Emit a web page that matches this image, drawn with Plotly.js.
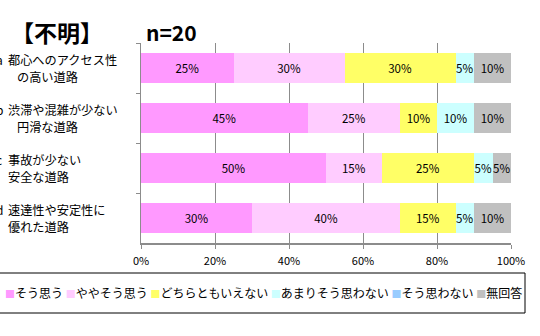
<!DOCTYPE html>
<html><head><meta charset="utf-8">
<script src="https://cdn.plot.ly/plotly-3.0.1.min.js"></script>
<style>body{margin:0;background:#fff}#c{width:540px;height:336px}</style>
</head><body><div id="c"></div>
<script>
// ---- data ----
const categories = ['a', 'b', 'c', 'd'];
const labelLine1 = ['都心へのアクセス性', '渋滞や混雑が少ない', '事故が少ない', '速達性や安定性に'];
const labelLine2 = ['の高い道路', '円滑な道路', '安全な道路', '優れた道路'];
const seriesNames = ['そう思う', 'ややそう思う', 'どちらともいえない', 'あまりそう思わない', 'そう思わない', '無回答'];
const souOmou      = [25, 45, 50, 30];
const yayaSouOmou  = [30, 25, 15, 40];
const dochiramo    = [30, 10, 25, 15];
const amari        = [5, 10, 5, 5];
const souOmowanai  = [0, 0, 0, 0];
const mukaitou     = [10, 10, 5, 10];
const xTicks = [0, 20, 40, 60, 80, 100];
const titleText = '【不明】';
const nText = 'n=20';

// ---- styles ----
const colors = ['#FF99FF', '#FFCCFF', '#FFFF66', '#CCFFFF', '#99CCFF', '#C0C0C0'];
const FONT = '"Noto Sans CJK JP", "Noto Sans", sans-serif';
const W = 540, H = 336, L = 141, R = 29, T = 43, B = 93;
const PW = W - L - R, PH = H - T - B;

const seriesValues = [souOmou, yayaSouOmou, dochiramo, amari, souOmowanai, mukaitou];
const traces = seriesValues.map((vals, i) => ({
  type: 'bar', orientation: 'h',
  name: seriesNames[i],
  y: categories, x: vals,
  text: vals.map(v => v > 0 ? v + '%' : ''),
  textposition: 'inside', insidetextanchor: 'middle', textangle: 0,
  constraintext: 'none',
  textfont: {family: FONT, size: 11.5, color: '#000'},
  marker: {color: colors[i], line: {width: 0}},
  hoverinfo: 'skip', showlegend: false
}));

const annotations = [];
categories.forEach((c, i) => {
  annotations.push({xref: 'paper', yref: 'y', x: 0, y: c, xanchor: 'left', yanchor: 'middle',
    xshift: -L - 6, yshift: 8.5, text: c, showarrow: false,
    font: {family: FONT, size: 12, color: '#000'}});
  annotations.push({xref: 'paper', yref: 'y', x: 0, y: c, xanchor: 'left', yanchor: 'middle',
    xshift: -L + 6, yshift: 8.5, text: labelLine1[i], showarrow: false,
    font: {family: FONT, size: 12.2, color: '#000'}});
  annotations.push({xref: 'paper', yref: 'y', x: 0, y: c, xanchor: 'left', yanchor: 'middle',
    xshift: -L + (i < 2 ? 15 : 6), yshift: -8.5, text: labelLine2[i], showarrow: false,
    font: {family: FONT, size: 12.2, color: '#000'}});
});
annotations.push({xref: 'paper', yref: 'paper', x: 0, y: 1, xanchor: 'left', yanchor: 'middle',
  xshift: -L + 9, yshift: -32 + T, text: '<b>' + titleText + '</b>', showarrow: false,
  font: {family: FONT, size: 23, color: '#000'}});
annotations.push({xref: 'paper', yref: 'paper', x: 0, y: 1, xanchor: 'left', yanchor: 'middle',
  xshift: 3, yshift: -32 + T, text: '<b>' + nText + '</b>', showarrow: false,
  font: {family: FONT, size: 21, color: '#000'}});

// legend drawn as text with coloured squares
const legendText = seriesNames.map((n, i) =>
  '<span style="color:' + colors[i] + ';font-size:10px">■</span>' + n).join(' ');
annotations.push({xref: 'paper', yref: 'paper', x: 0, y: 0, xanchor: 'center', yanchor: 'middle',
  xshift: 263 - L, yshift: -(292 - (T + PH)), text: legendText, showarrow: false,
  font: {family: FONT, size: 12, color: '#000'}});

const shapes = [{type: 'rect', xref: 'paper', yref: 'paper',
  x0: (-2 - L) / PW, x1: (525 - L) / PW,
  y0: -(313 - (T + PH)) / PH, y1: -(273 - (T + PH)) / PH,
  line: {color: '#000', width: 1}, fillcolor: 'rgba(0,0,0,0)'}];

const layout = {
  width: W, height: H,
  margin: {l: L, r: R, t: T, b: B, pad: 0},
  paper_bgcolor: '#fff', plot_bgcolor: '#fff',
  barmode: 'stack', bargap: 0.4,
  showlegend: false,
  font: {family: FONT, size: 11, color: '#000'},
  xaxis: {range: [0, 100], tickvals: xTicks, ticktext: xTicks.map(v => v + '%'),
    showgrid: true, gridcolor: '#8c8c8c', gridwidth: 1,
    showline: true, linecolor: '#8c8c8c', linewidth: 1.5,
    ticks: 'outside', ticklen: 4, tickcolor: '#8c8c8c', ticklabelstandoff: 3,
    tickfont: {family: FONT, size: 11, color: '#000'}, zeroline: false, fixedrange: true},
  yaxis: {type: 'category', categoryorder: 'array', categoryarray: categories,
    range: [3.5, -0.5], showticklabels: false,
    showline: true, linecolor: '#8c8c8c', linewidth: 1.5,
    ticks: 'outside', tickson: 'boundaries', ticklen: 4, tickcolor: '#8c8c8c',
    showgrid: false, zeroline: false, fixedrange: true},
  annotations: annotations,
  shapes: shapes
};

Plotly.newPlot('c', traces, layout, {staticPlot: true, displayModeBar: false});
</script>
</body></html>
